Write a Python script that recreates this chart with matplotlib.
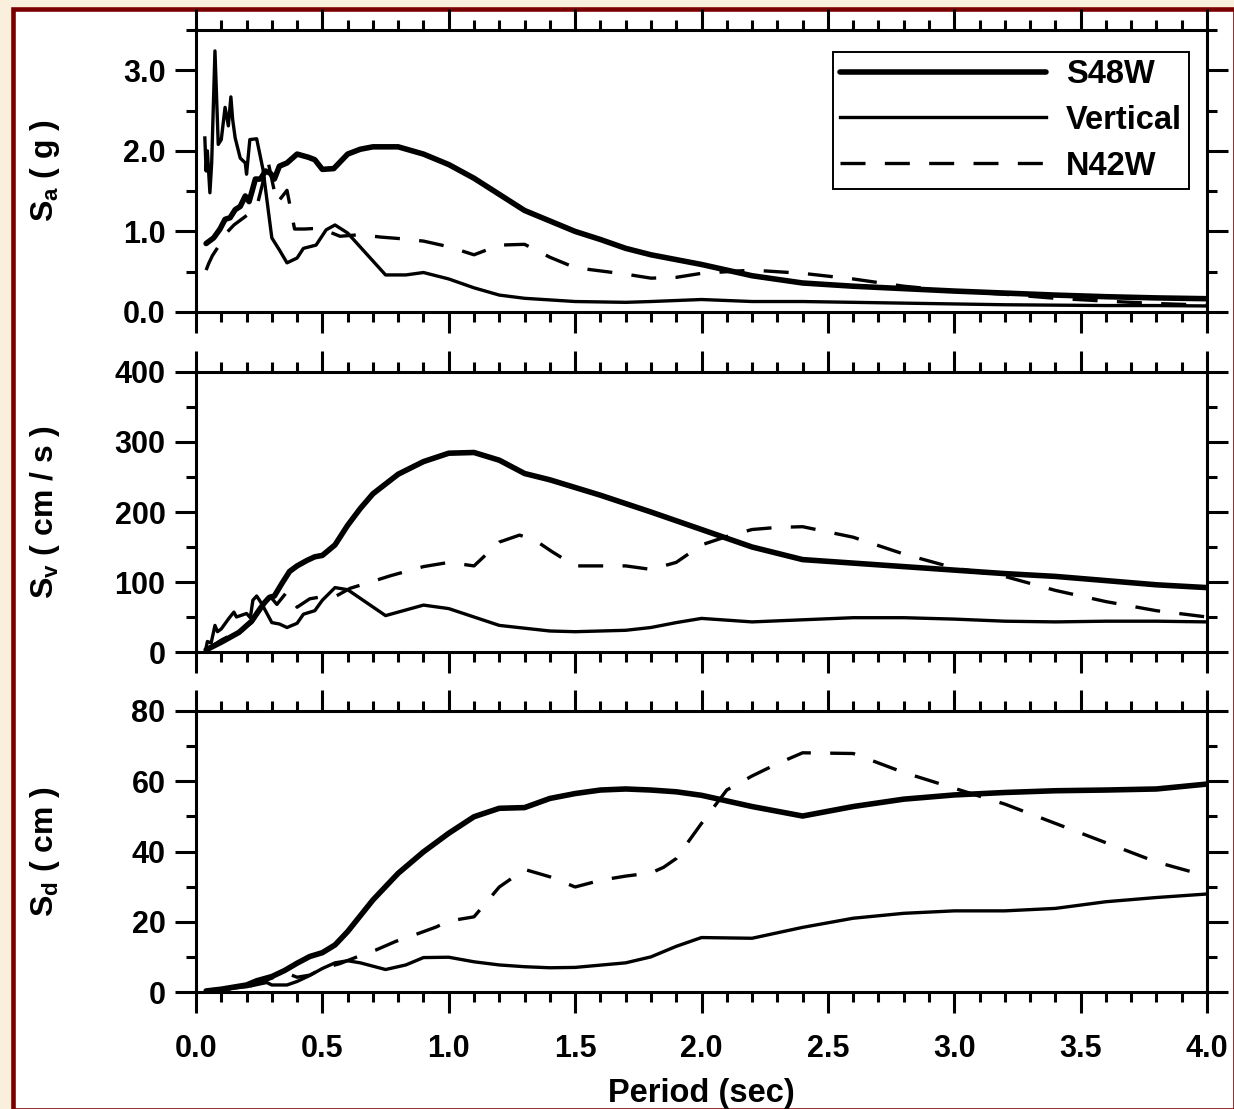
import matplotlib
matplotlib.use("Agg")
import matplotlib.pyplot as plt
from matplotlib.ticker import MultipleLocator, FormatStrFormatter
from matplotlib.patches import Rectangle

plt.rcParams['font.family'] = ['Liberation Sans', 'DejaVu Sans']
plt.rcParams['font.weight'] = 'bold'
plt.rcParams['mathtext.fontset'] = 'custom'
plt.rcParams['mathtext.rm'] = 'Liberation Sans:bold'
plt.rcParams['mathtext.it'] = 'Liberation Sans:bold'
plt.rcParams['mathtext.bf'] = 'Liberation Sans:bold'
plt.rcParams['mathtext.default'] = 'rm'

# ---------------- spectral acceleration Sa (g) ----------------
sa_s48w_T = [0.04, 0.07, 0.095, 0.115, 0.135, 0.155, 0.175, 0.195, 0.21, 0.22, 0.235,
             0.255, 0.275, 0.295, 0.31, 0.33, 0.36, 0.40, 0.445, 0.47, 0.50, 0.545,
             0.60, 0.65, 0.70, 0.80, 0.90, 1.0, 1.1, 1.2, 1.3, 1.4, 1.5, 1.6, 1.7,
             1.8, 2.0, 2.2, 2.4, 2.6, 2.8, 3.0, 3.2, 3.4, 3.6, 3.8, 4.0]
sa_s48w = [0.85, 0.92, 1.03, 1.15, 1.17, 1.27, 1.31, 1.44, 1.37, 1.48, 1.65,
           1.65, 1.75, 1.72, 1.65, 1.81, 1.85, 1.96, 1.92, 1.89, 1.77, 1.78,
           1.96, 2.02, 2.05, 2.05, 1.96, 1.83, 1.66, 1.46, 1.26, 1.13, 1.00, 0.90, 0.79,
           0.71, 0.59, 0.45, 0.36, 0.32, 0.29, 0.26, 0.235, 0.21, 0.19, 0.175, 0.165]

sa_vert_T = [0.035, 0.04, 0.045, 0.055, 0.062, 0.075, 0.088, 0.10, 0.115, 0.128, 0.138,
             0.145, 0.155, 0.175, 0.195, 0.20, 0.213, 0.24, 0.265, 0.30, 0.33, 0.36,
             0.40, 0.425, 0.45, 0.475, 0.515, 0.55, 0.60, 0.75, 0.83, 0.90, 1.0, 1.1,
             1.2, 1.3, 1.4, 1.5, 1.7, 1.8, 2.0, 2.2, 2.4, 2.6, 2.8, 3.0, 3.2, 3.4, 3.6,
             3.8, 4.0]
sa_vert = [2.16, 1.75, 2.0, 1.48, 1.85, 3.24, 2.08, 2.14, 2.54, 2.31, 2.67,
           2.39, 2.16, 1.91, 1.85, 1.71, 2.14, 2.15, 1.77, 0.92, 0.77, 0.61,
           0.67, 0.79, 0.81, 0.83, 1.02, 1.08, 0.98, 0.46, 0.46, 0.49, 0.41, 0.30,
           0.21, 0.17, 0.15, 0.13, 0.12, 0.13, 0.155, 0.13, 0.13, 0.12, 0.11, 0.10,
           0.09, 0.085, 0.08, 0.08, 0.075]

sa_n42w_T = [0.04, 0.05, 0.065, 0.09, 0.12, 0.15, 0.18, 0.21, 0.24, 0.26, 0.285,
             0.32, 0.36, 0.39, 0.43, 0.49, 0.57, 0.65, 0.73, 0.81, 0.90, 1.0, 1.1,
             1.2, 1.3, 1.4, 1.5, 1.6, 1.7, 1.8, 1.9, 2.0, 2.2, 2.4, 2.6, 2.8, 3.0,
             3.2, 3.4, 3.6, 3.8, 4.0]
sa_n42w = [0.52, 0.60, 0.70, 0.82, 0.98, 1.08, 1.15, 1.22, 1.30, 1.55, 1.87,
           1.35, 1.51, 1.03, 1.03, 1.04, 0.94, 0.96, 0.93, 0.91, 0.88, 0.81, 0.71,
           0.83, 0.84, 0.68, 0.55, 0.51, 0.47, 0.42, 0.43, 0.48, 0.52, 0.48, 0.41, 0.32, 0.26,
           0.22, 0.17, 0.135, 0.105, 0.085]

# ---------------- spectral velocity Sv (cm/s) ----------------
sv_s48w_T = [0.04, 0.1, 0.17, 0.22, 0.25, 0.27, 0.29, 0.31, 0.34, 0.37, 0.40, 0.44,
             0.47, 0.50, 0.55, 0.60, 0.65, 0.70, 0.80, 0.90, 1.0, 1.1, 1.2, 1.3, 1.4,
             1.5, 1.6, 1.7, 1.8, 2.0, 2.2, 2.4, 2.6, 2.8, 3.0, 3.2, 3.4, 3.6, 3.8, 4.0]
sv_s48w = [3, 14, 28, 44, 60, 70, 78, 80, 98, 115, 123, 131,
           136, 138, 153, 181, 205, 226, 254, 272, 284, 285, 274, 255, 246,
           235, 224, 212, 200, 175, 150, 132, 127, 122, 117, 112, 108, 102, 96, 92]

sv_vert_T = [0.04, 0.045, 0.06, 0.075, 0.085, 0.10, 0.13, 0.15, 0.16, 0.20, 0.215,
             0.225, 0.24, 0.26, 0.30, 0.33, 0.36, 0.40, 0.425, 0.47, 0.50, 0.55, 0.60,
             0.75, 0.83, 0.90, 1.0, 1.1, 1.2, 1.3, 1.4, 1.5, 1.7, 1.8, 1.9, 2.0, 2.2,
             2.4, 2.6, 2.8, 3.0, 3.2, 3.4, 3.6, 3.8, 4.0]
sv_vert = [6, 15, 13, 38, 29, 33, 48, 57, 50, 55, 49,
           74, 80, 69, 42, 40, 35, 41, 54, 59, 74, 92, 89,
           52, 60, 67, 62, 50, 38, 34, 30, 29, 31, 35, 42, 48, 43,
           46, 49, 49, 47, 44, 43, 44, 44, 43]

sv_n42w_T = [0.04, 0.1, 0.17, 0.22, 0.26, 0.285, 0.32, 0.36, 0.40, 0.45, 0.50, 0.55,
             0.61, 0.70, 0.77, 0.90, 1.0, 1.1, 1.2, 1.28, 1.34, 1.41, 1.5, 1.7, 1.8,
             1.9, 2.0, 2.1, 2.2, 2.3, 2.4, 2.6, 2.8, 3.0, 3.2, 3.4, 3.6, 3.8, 4.0]
sv_n42w = [3, 17, 30, 42, 63, 83, 68, 86, 64, 76, 79, 79,
           91, 101, 109, 122, 128, 123, 157, 167, 160, 143, 123, 123, 118,
           128, 153, 165, 175, 178, 179, 164, 140, 120, 108, 88, 72, 59, 50]

# ---------------- spectral displacement Sd (cm) ----------------
sd_s48w_T = [0.04, 0.1, 0.2, 0.24, 0.3, 0.35, 0.4, 0.45, 0.5, 0.55, 0.6, 0.7, 0.8,
             0.9, 1.0, 1.1, 1.2, 1.3, 1.4, 1.5, 1.6, 1.7, 1.8, 1.9, 2.0, 2.2, 2.4,
             2.6, 2.8, 3.0, 3.2, 3.4, 3.6, 3.8, 4.0]
sd_s48w = [0.3, 0.8, 2.0, 3.2, 4.4, 6.1, 8.2, 10.1, 11.2, 13.4, 17.2, 26.2, 33.8,
           39.9, 45.2, 49.9, 52.3, 52.5, 55.1, 56.5, 57.5, 57.8, 57.5, 57.0, 56.0, 52.8, 50.1,
           52.8, 54.9, 56.1, 56.8, 57.3, 57.5, 57.8, 59.2]

sd_vert_T = [0.04, 0.2, 0.28, 0.30, 0.36, 0.40, 0.45, 0.50, 0.55, 0.60, 0.65, 0.75,
             0.83, 0.90, 1.0, 1.1, 1.2, 1.3, 1.4, 1.5, 1.7, 1.8, 1.9, 2.0, 2.2, 2.4,
             2.6, 2.8, 3.0, 3.2, 3.4, 3.6, 3.8, 4.0]
sd_vert = [0.3, 1.5, 2.7, 2.0, 2.0, 3.0, 4.7, 6.7, 8.3, 8.9, 8.3, 6.4,
           7.7, 9.8, 9.9, 8.6, 7.7, 7.2, 6.9, 7.0, 8.3, 10.0, 13.0, 15.5, 15.3, 18.4,
           21.0, 22.4, 23.1, 23.1, 23.8, 25.7, 26.9, 27.9]

sd_n42w_T = [0.04, 0.2, 0.28, 0.33, 0.36, 0.40, 0.45, 0.50, 0.57, 0.63, 0.71, 0.79,
             0.87, 0.95, 1.0, 1.1, 1.2, 1.3, 1.4, 1.5, 1.6, 1.7, 1.8, 1.85, 1.9, 1.95,
             2.0, 2.1, 2.2, 2.3, 2.4, 2.6, 2.8, 3.0, 3.2, 3.4, 3.6, 3.8, 4.0]
sd_n42w = [0.3, 1.3, 3.4, 4.8, 5.3, 4.2, 4.8, 6.7, 8.1, 9.8, 11.9, 14.4,
           16.4, 18.5, 20.2, 21.4, 29.9, 34.9, 32.8, 29.9, 31.8, 33.0, 33.9, 35.5, 38.0, 43.0,
           48.0, 57.5, 61.5, 65.0, 68.1, 67.9, 62.5, 58.0, 53.5, 48.0, 42.5, 37.0, 33.0]

series_names = ['S48W', 'Vertical', 'N42W']
x_ticks = [0.0, 0.5, 1.0, 1.5, 2.0, 2.5, 3.0, 3.5, 4.0]

W, H = 1234, 1109
fig = plt.figure(figsize=(W / 100, H / 100), dpi=100, facecolor='#FAEFDD')

# white page with a dark red frame, kept behind the axes
frame = Rectangle((12.5 / W, 0 - 0.5 / H), (W - 12.5 + 0.5) / W, (H - 8.7 + 0.5) / H,
                  transform=fig.transFigure, facecolor='white', edgecolor='#7A0000',
                  linewidth=3.3, zorder=-10)
fig.patches.append(frame)

left = 196 / W
width = (1207 - 196) / W


def panel(top_px, bottom_px):
    a = fig.add_axes([left, 1 - bottom_px / H, width, (bottom_px - top_px) / H])
    a.set_zorder(1)
    return a


ax1 = panel(30, 312)
ax2 = panel(372, 652)
ax3 = panel(711, 992)

thick = dict(color='black', lw=4.0, solid_joinstyle='round', solid_capstyle='round')
thin = dict(color='black', lw=2.4, solid_joinstyle='round')
dashed = dict(color='black', lw=2.4, linestyle=(0, (7.5, 5.8)), dash_joinstyle='round')

ax1.plot(sa_s48w_T, sa_s48w, label=series_names[0], **thick)
ax1.plot(sa_vert_T, sa_vert, label=series_names[1], **thin)
ax1.plot(sa_n42w_T, sa_n42w, label=series_names[2], **dashed)

ax2.plot(sv_s48w_T, sv_s48w, **thick)
ax2.plot(sv_vert_T, sv_vert, **thin)
ax2.plot(sv_n42w_T, sv_n42w, **dashed)

ax3.plot(sd_s48w_T, sd_s48w, **thick)
ax3.plot(sd_vert_T, sd_vert, **thin)
ax3.plot(sd_n42w_T, sd_n42w, **dashed)

settings = [
    (ax1, (0, 3.5), 1.0, 0.5, '%.1f', 'S$_{a}$ ( g )'),
    (ax2, (0, 400), 100, 50, '%d', 'S$_{v}$ ( cm / s )'),
    (ax3, (0, 80), 20, 10, '%d', 'S$_{d}$ ( cm )'),
]

for ax, ylim, ymaj, ymin, fmt, ylab in settings:
    ax.set_xlim(0, 4)
    ax.set_ylim(*ylim)
    ax.set_xticks(x_ticks)
    ax.xaxis.set_minor_locator(MultipleLocator(0.1))
    ax.yaxis.set_major_locator(MultipleLocator(ymaj))
    ax.yaxis.set_minor_locator(MultipleLocator(ymin))
    ax.yaxis.set_major_formatter(FormatStrFormatter(fmt))
    ax.xaxis.set_major_formatter(FormatStrFormatter('%.1f'))
    for sp in ax.spines.values():
        sp.set_linewidth(2.2)
    ax.tick_params(which='both', direction='out', top=True, right=True,
                   width=2.2, labelsize=22)
    ax.tick_params(which='major', length=15)
    ax.tick_params(which='minor', length=7.5)
    ax.tick_params(axis='y', which='major', pad=7)
    ax.tick_params(axis='x', which='major', pad=15)
    ax.set_ylabel(ylab, fontsize=23, fontweight='bold')
    ax.yaxis.set_label_coords(-0.133, 0.5)
    if ax is not ax3:
        ax.tick_params(labelbottom=False)
    for lab in ax.get_xticklabels() + ax.get_yticklabels():
        lab.set_fontweight('bold')

ax3.set_xlabel('Period (sec)', fontsize=23.5, fontweight='bold', labelpad=10)

leg = ax1.legend(loc='upper right', bbox_to_anchor=(0.982, 0.922), frameon=True,
                 fancybox=False, edgecolor='black', framealpha=1, fontsize=23.5,
                 handlelength=6.3, handletextpad=0.6, labelspacing=0.45,
                 borderpad=0.22, borderaxespad=0)
leg.get_frame().set_linewidth(1.4)
for t in leg.get_texts():
    t.set_fontweight('bold')

fig.savefig('out.png', dpi=100, facecolor=fig.get_facecolor())
